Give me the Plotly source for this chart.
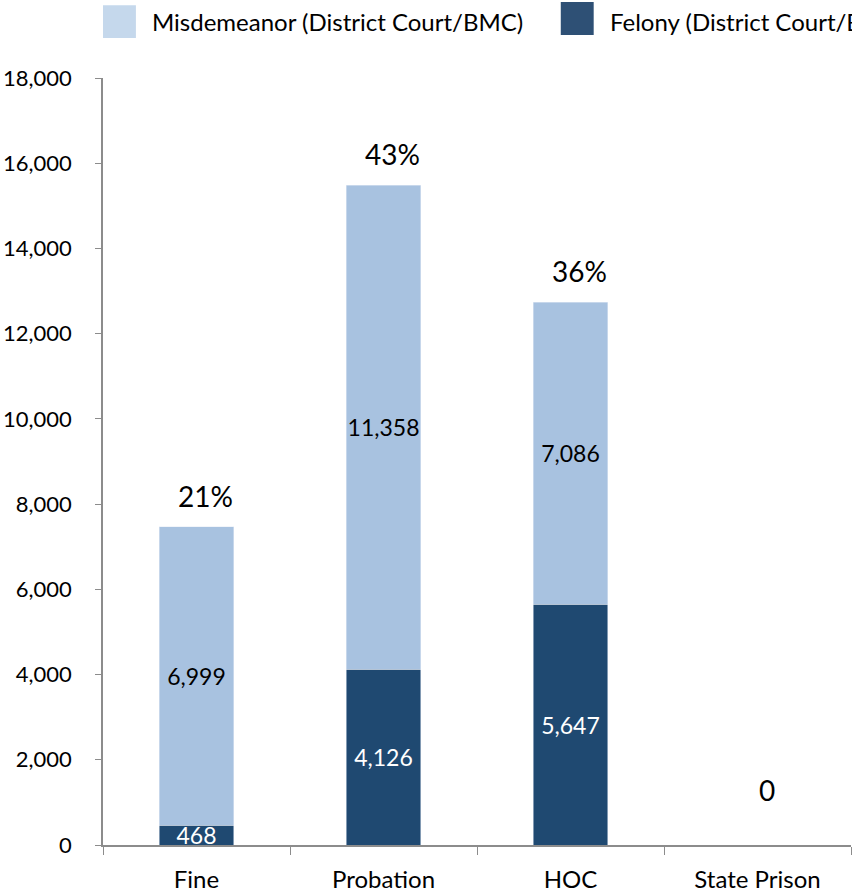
import plotly.graph_objects as go

categories = ["Fine", "Probation", "HOC", "State Prison"]
felony = [468, 4126, 5647, 0]
misdemeanor = [6999, 11358, 7086, 0]
pct_labels = ["21%", "43%", "36%", "0"]
series_names = ["Misdemeanor (District Court/BMC)", "Felony (District Court/BMC)"]
y_ticks = [0, 2000, 4000, 6000, 8000, 10000, 12000, 14000, 16000, 18000]

LIGHT = "#A8C2E0"
DARK = "#1F4971"
FONT = "Lato"

totals = [f + m for f, m in zip(felony, misdemeanor)]

def fmt(v):
    return "" if v == 0 else f"{v:,}"

fig = go.Figure()
fig.add_trace(go.Bar(
    x=categories, y=felony, name=series_names[1], marker_color=DARK,
    text=[fmt(v) for v in felony], textposition="inside", insidetextanchor="middle",
    textangle=0, textfont=dict(color="white", size=23, family=FONT), constraintext="none",
    showlegend=False, cliponaxis=False,
))
fig.add_trace(go.Bar(
    x=categories, y=misdemeanor, name=series_names[0], marker_color=LIGHT,
    text=[fmt(v) for v in misdemeanor], textposition="inside", insidetextanchor="middle",
    textangle=0, textfont=dict(color="black", size=23, family=FONT), constraintext="none",
    showlegend=False,
))

for cat, tot, lab in zip(categories, totals, pct_labels):
    fig.add_annotation(x=cat, y=tot, text=lab, showarrow=False, yanchor="bottom",
                       xshift=9, yshift=12 if tot > 0 else 36,
                       font=dict(size=28, color="black", family=FONT))

# legend (drawn manually so it may run past the right edge like the original)
fig.add_shape(type="rect", xref="paper", yref="paper", x0=0.0, x1=0.044, y0=1.052, y1=1.095,
              fillcolor="#C5D8EC", line_width=0)
fig.add_annotation(xref="paper", yref="paper", x=0.0625, y=1.0735, xanchor="left", yanchor="middle",
                   text=series_names[0], showarrow=False, font=dict(size=24, family=FONT, color="black"))
fig.add_shape(type="rect", xref="paper", yref="paper", x0=0.612, x1=0.656, y0=1.056, y1=1.099,
              fillcolor="#2E5075", line_width=0)
fig.add_annotation(xref="paper", yref="paper", x=0.675, y=1.0735, xanchor="left", yanchor="middle",
                   text=series_names[1], showarrow=False, font=dict(size=24, family=FONT, color="black"))

fig.update_layout(
    barmode="stack", bargap=0.6,
    width=852, height=894,
    margin=dict(l=103, r=1, t=78, b=49),
    plot_bgcolor="white", paper_bgcolor="white",
    font=dict(family=FONT, size=24, color="black"),
    showlegend=False,
)
fig.update_yaxes(range=[0, 18000], tickvals=y_ticks, tickformat=",", showgrid=False,
                 showline=True, linecolor="#8C8C8C", linewidth=1.5, ticks="outside",
                 ticklen=6, tickcolor="#8C8C8C", ticklabelstandoff=19, zeroline=False,
                 tickfont=dict(size=22), automargin=False)
fig.update_xaxes(showline=True, linecolor="#8C8C8C", linewidth=1.5, ticks="outside",
                 tickson="boundaries", ticklen=8, tickcolor="#8C8C8C", showgrid=False,
                 ticklabelstandoff=12, automargin=False)

fig.write_html("out.html", config={"displayModeBar": False},
               post_script="document.body.style.margin='0';document.body.style.overflow='hidden';")
